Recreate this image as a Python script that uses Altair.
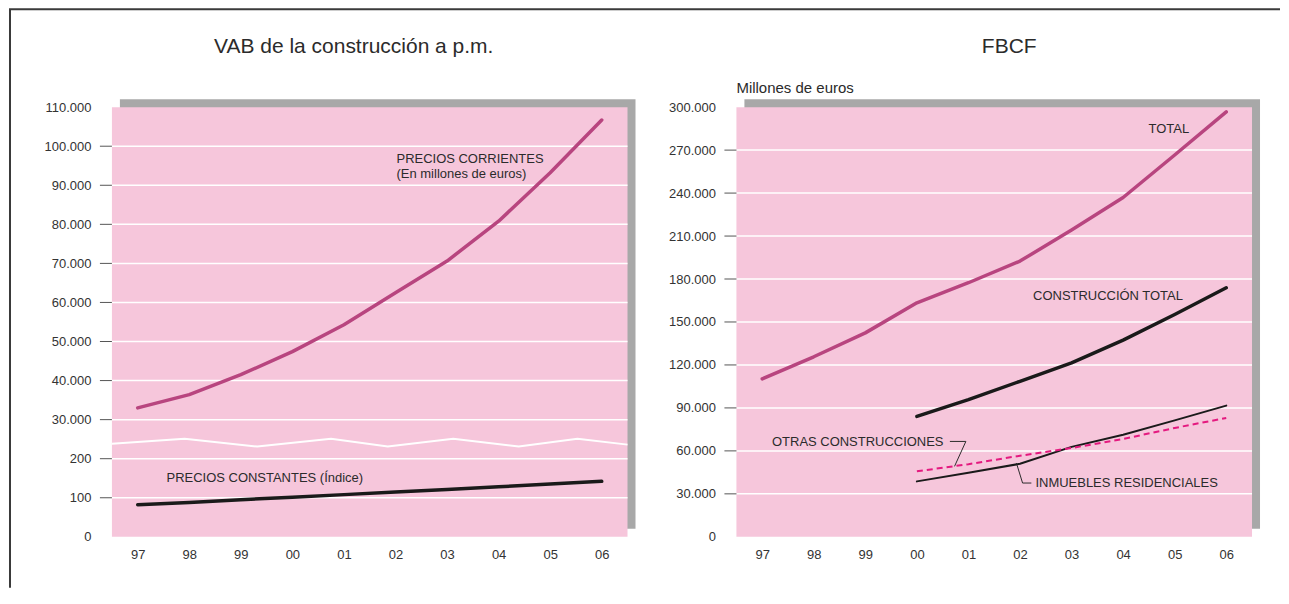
import json
import altair as alt
import pandas as pd

# ---------------- data ----------------
years = ["97", "98", "99", "00", "01", "02", "03", "04", "05", "06"]

# Left chart: VAB de la construcción a p.m.
vab_corrientes = [33000, 36400, 41500, 47400, 54300, 62500, 70600, 80800, 93200, 106700]  # millones de euros
vab_constantes = [82, 88, 95, 101, 108, 115, 121, 128, 135, 142]  # índice
left_tick_labels = ["0", "100", "200", "30.000", "40.000", "50.000", "60.000",
                    "70.000", "80.000", "90.000", "100.000", "110.000"]
# broken-axis marker (position units of the broken axis)
break_x = [-0.5, 0.91, 2.32, 3.75, 4.85, 6.12, 7.39, 8.53, 9.5]
break_y = [2.38, 2.51, 2.31, 2.51, 2.31, 2.51, 2.31, 2.51, 2.36]

# Right chart: FBCF (millones de euros)
fbcf_total = [110300, 125700, 142400, 163400, 177400, 192500, 214200, 236900, 266600, 296700]
constr_years = years[3:]
constr_total = [84100, 95800, 108600, 121400, 137300, 155200, 173900]
inmuebles_res = [38700, 44700, 51000, 62800, 71300, 81300, 91600]
otras_constr = [45700, 50700, 56600, 62000, 68300, 76000, 83000]
right_tick_values = [0, 30000, 60000, 90000, 120000, 150000, 180000, 210000, 240000, 270000, 300000]
right_tick_labels = ["0", "30.000", "60.000", "90.000", "120.000", "150.000", "180.000",
                     "210.000", "240.000", "270.000", "300.000"]

# ---------------- style ----------------
W, H = 516, 430
FONT = "Liberation Sans"
PINK = "#f6c6db"
SHADOW = "#a8a8a8"
MAGENTA = "#b8457f"
DASHED = "#e4197f"
DARK = "#1a1a1a"
TEXT = "#2b2b2b"

one = alt.Data(values=[{}])


def xenc(field="x"):
    return alt.X(f"{field}:Q", title=None,
                 scale=alt.Scale(domain=[-0.5, 9.5], nice=False, zero=False),
                 axis=alt.Axis(values=list(range(len(years))),
                               labelExpr=f"{json.dumps(years)}[datum.value]",
                               labelPadding=12))


def yenc_left(field="p"):
    return alt.Y(f"{field}:Q", title=None,
                 scale=alt.Scale(domain=[0, len(left_tick_labels) - 1], nice=False, zero=False),
                 axis=alt.Axis(values=list(range(len(left_tick_labels))),
                               labelExpr=f"{json.dumps(left_tick_labels)}[round(datum.value)]",
                               labelPadding=21))


def yenc_right(field="v"):
    return alt.Y(f"{field}:Q", title=None,
                 scale=alt.Scale(domain=[0, 300000], nice=False, zero=True),
                 axis=alt.Axis(values=right_tick_values,
                               labelExpr=f"{json.dumps(right_tick_labels)}[round(datum.value/30000)]",
                               labelPadding=21))


def backdrop():
    shadow = alt.Chart(one).mark_rect(color=SHADOW).encode(
        x=alt.value(8), x2=alt.value(W + 8), y=alt.value(-8), y2=alt.value(H - 8))
    pink = alt.Chart(one).mark_rect(color=PINK).encode(
        x=alt.value(0), x2=alt.value(W), y=alt.value(0), y2=alt.value(H))
    return [shadow, pink]


def title_mark(text, cx):
    return alt.Chart(one).mark_text(font=FONT, fontSize=21, color=TEXT, align="center",
                                    baseline="middle").encode(
        x=alt.value(cx), y=alt.value(-60), text=alt.value(text))


# ---------------- left panel ----------------
grid_left = pd.DataFrame({"p": list(range(1, len(left_tick_labels) - 1))})
df_corr = pd.DataFrame({"x": list(range(len(years))), "v": vab_corrientes})
df_const = pd.DataFrame({"x": list(range(len(years))), "v": vab_constantes})
df_break = pd.DataFrame({"x": break_x, "p": break_y})
ann_left = pd.DataFrame({
    "x": [5.02, 5.02, 0.56],
    "p": [9.67, 9.29, 1.51],
    "t": ["PRECIOS CORRIENTES", "(En millones de euros)", "PRECIOS CONSTANTES (Índice)"],
})

left_layers = backdrop() + [
    alt.Chart(grid_left).mark_rule(color="white", strokeWidth=1.5).encode(
        y=yenc_left(), x=alt.value(0), x2=alt.value(W)),
    alt.Chart(grid_left).mark_rule(color="#555555", strokeWidth=1).encode(
        y=yenc_left(), x=alt.value(-12), x2=alt.value(0)),
    alt.Chart(df_break).mark_line(color="white", strokeWidth=2).encode(
        x=xenc(), y=yenc_left()),
    alt.Chart(df_corr).transform_calculate(p="3 + (datum.v - 30000) / 10000").mark_line(
        color=MAGENTA, strokeWidth=3.5, strokeCap="round", strokeJoin="round").encode(
        x=xenc(), y=yenc_left()),
    alt.Chart(df_const).transform_calculate(p="datum.v / 100").mark_line(
        color=DARK, strokeWidth=3.5, strokeCap="round", strokeJoin="round").encode(
        x=xenc(), y=yenc_left()),
    alt.Chart(ann_left).mark_text(font=FONT, fontSize=13, color=TEXT, align="left",
                                  baseline="middle").encode(
        x=xenc(), y=yenc_left(), text="t:N"),
    title_mark("VAB de la construcción a p.m.", 242),
    # outer frame (top and left edges)
    alt.Chart(one).mark_rule(color="#3a3a3a", strokeWidth=2).encode(
        x=alt.value(-102), y=alt.value(-98), y2=alt.value(481)),
    alt.Chart(one).mark_rule(color="#3a3a3a", strokeWidth=2).encode(
        x=alt.value(-103), x2=alt.value(1169), y=alt.value(-98)),
]
left = alt.layer(*left_layers).properties(width=W, height=H)

# ---------------- right panel ----------------
grid_right = pd.DataFrame({"v": right_tick_values[1:-1]})
yr_idx = {y: i for i, y in enumerate(years)}
df_total = pd.DataFrame({"x": list(range(len(years))), "v": fbcf_total})
df_ct = pd.DataFrame({"x": [yr_idx[y] for y in constr_years], "v": constr_total})
df_inm = pd.DataFrame({"x": [yr_idx[y] for y in constr_years], "v": inmuebles_res})
df_otr = pd.DataFrame({"x": [yr_idx[y] for y in constr_years], "v": otras_constr})
ann_right_r = pd.DataFrame({
    "x": [8.28, 8.16], "v": [284600, 167800], "t": ["TOTAL", "CONSTRUCCIÓN TOTAL"]})
ann_right_l = pd.DataFrame({
    "x": [0.19, 5.30], "v": [66400, 37800],
    "t": ["OTRAS CONSTRUCCIONES", "INMUEBLES RESIDENCIALES"]})
leader1 = pd.DataFrame({"x": [3.64, 3.95, 3.73], "v": [66600, 66600, 49200], "o": [0, 1, 2]})
leader2 = pd.DataFrame({"x": [5.22, 5.05, 4.93], "v": [37550, 37550, 51540], "o": [0, 1, 2]})

right_layers = backdrop() + [
    alt.Chart(grid_right).mark_rule(color="white", strokeWidth=1.5).encode(
        y=yenc_right(), x=alt.value(0), x2=alt.value(W)),
    alt.Chart(grid_right).mark_rule(color="#555555", strokeWidth=1).encode(
        y=yenc_right(), x=alt.value(-12), x2=alt.value(0)),
    alt.Chart(df_total).mark_line(color=MAGENTA, strokeWidth=3.5, strokeCap="round",
                                  strokeJoin="round").encode(x=xenc(), y=yenc_right()),
    alt.Chart(df_ct).mark_line(color=DARK, strokeWidth=3.5, strokeCap="round",
                               strokeJoin="round").encode(x=xenc(), y=yenc_right()),
    alt.Chart(df_inm).mark_line(color=DARK, strokeWidth=2, strokeCap="round",
                                strokeJoin="round").encode(x=xenc(), y=yenc_right()),
    alt.Chart(df_otr).mark_line(color=DASHED, strokeWidth=2, strokeDash=[6, 4]).encode(
        x=xenc(), y=yenc_right()),
    alt.Chart(leader1).mark_line(color=TEXT, strokeWidth=1).encode(
        x=xenc(), y=yenc_right(), order="o:Q"),
    alt.Chart(leader2).mark_line(color=TEXT, strokeWidth=1).encode(
        x=xenc(), y=yenc_right(), order="o:Q"),
    alt.Chart(ann_right_r).mark_text(font=FONT, fontSize=13, color=TEXT, align="right",
                                     baseline="middle").encode(
        x=xenc(), y=yenc_right(), text="t:N"),
    alt.Chart(ann_right_l).mark_text(font=FONT, fontSize=13, color=TEXT, align="left",
                                     baseline="middle").encode(
        x=xenc(), y=yenc_right(), text="t:N"),
    alt.Chart(one).mark_text(font=FONT, fontSize=15, color=TEXT, align="left",
                             baseline="middle").encode(
        x=alt.value(0), y=alt.value(-19), text=alt.value("Millones de euros")),
    title_mark("FBCF", 273),
]
right = alt.layer(*right_layers).properties(width=W, height=H)

chart = alt.hconcat(left, right, spacing=109, bounds="flush").properties(
    padding=0, background="white"
).configure_view(stroke=None).configure_axis(
    domain=False, ticks=False, grid=False, labelFont=FONT, labelFontSize=13,
    labelColor="#333333"
)

chart.save("out.html", embed_options={"renderer": "svg", "actions": False})
